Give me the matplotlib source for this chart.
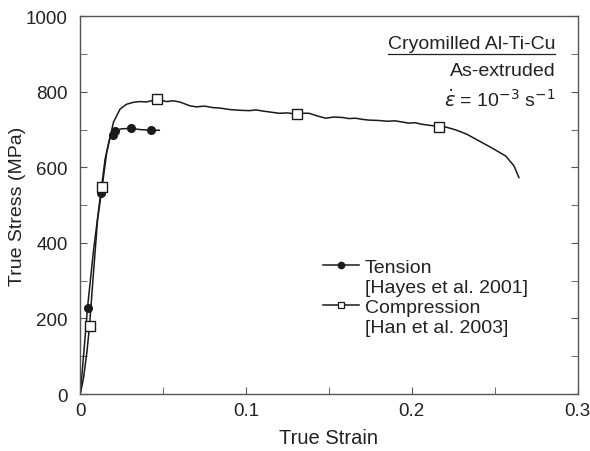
import numpy as np
import matplotlib
matplotlib.use("Agg")
import matplotlib.pyplot as plt
from matplotlib.lines import Line2D
from matplotlib.ticker import MultipleLocator

plt.rcParams['font.family'] = ['Liberation Sans', 'DejaVu Sans']

# Tension curve [Hayes et al. 2001]
tens_strain = [0.0, 0.001, 0.002, 0.0044, 0.008, 0.0124, 0.015, 0.0176, 0.0196,
               0.021, 0.025, 0.0305, 0.036, 0.0425, 0.0477]
tens_stress = [0, 50, 101, 229, 380, 533, 622, 674, 685,
               697, 702, 703, 700, 698, 698]
tens_mark_strain = [0.0044, 0.0124, 0.0196, 0.021, 0.0305, 0.0425]
tens_mark_stress = [229, 533, 685, 697, 703, 698]

# Compression curve [Han et al. 2003]
comp_strain = [0.0, 0.0019, 0.004, 0.0056, 0.008, 0.0105, 0.0132, 0.016, 0.020,
               0.024, 0.028, 0.032, 0.036, 0.040, 0.0466, 0.052, 0.056, 0.060,
               0.066, 0.070, 0.075, 0.080, 0.084, 0.090, 0.096, 0.102, 0.106,
               0.110, 0.115, 0.120, 0.125, 0.130, 0.134, 0.138, 0.143, 0.148,
               0.153, 0.158, 0.162, 0.166, 0.170, 0.174, 0.180, 0.185, 0.190,
               0.194, 0.198, 0.202, 0.206, 0.211, 0.2165, 0.221, 0.2265, 0.233,
               0.2405, 0.248, 0.2566, 0.2616, 0.2646]
comp_stress = [0, 40, 110, 181, 322, 463, 548, 640, 719,
               754, 767, 772, 774, 773, 780, 774, 776, 773,
               763, 760, 762, 758, 757, 753, 751, 750, 752,
               749, 746, 743, 744, 741, 743, 743, 736, 730,
               733, 732, 729, 730, 727, 725, 724, 722, 723,
               720, 717, 718, 714, 711, 708, 706, 699, 688,
               670, 652, 630, 604, 573]
comp_mark_strain = [0.0056, 0.0132, 0.0466, 0.1306, 0.2165]
comp_mark_stress = [181, 548, 780, 741, 708]

fig, ax = plt.subplots(figsize=(5.9, 4.52), dpi=100)
fig.subplots_adjust(left=0.136, right=0.979, bottom=0.126, top=0.962)

lc = '#1a1a1a'
ax.plot(tens_strain, tens_stress, color=lc, lw=1.1)
ax.plot(tens_mark_strain, tens_mark_stress, 'o', color=lc, ms=5.5, ls='none')
ax.plot(comp_strain, comp_stress, color=lc, lw=1.1)
ax.plot(comp_mark_strain, comp_mark_stress, 's', mfc='white', mec=lc,
        mew=1.0, ms=6.5, ls='none')

ax.set_xlim(0, 0.3)
ax.set_ylim(0, 1000)
ax.xaxis.set_minor_locator(MultipleLocator(0.05))
ax.yaxis.set_major_locator(MultipleLocator(200))
ax.yaxis.set_minor_locator(MultipleLocator(100))
ax.set_xticks([0, 0.1, 0.2, 0.3])
ax.set_xticklabels(['0', '0.1', '0.2', '0.3'])

gray = '#555555'
tc = '#222222'
for s in ax.spines.values():
    s.set_color(gray)
    s.set_linewidth(1.0)
ax.tick_params(which='both', direction='in', colors=gray, labelcolor=tc,
               right=True, top=False, labelsize=13.5, length=5)
ax.tick_params(axis='x', pad=6)
ax.tick_params(axis='y', pad=9)

ax.set_xlabel('True Strain', fontsize=14.5, color=tc, labelpad=6)
ax.set_ylabel('True Stress (MPa)', fontsize=14, color=tc, labelpad=0)

t1 = ax.text(0.955, 0.928, 'Cryomilled Al-Ti-Cu', transform=ax.transAxes,
             ha='right', va='center', fontsize=14, color=tc)
ax.text(0.955, 0.857, 'As-extruded', transform=ax.transAxes,
        ha='right', va='center', fontsize=14, color=tc)
ax.text(0.955, 0.78, r'$\dot{\varepsilon}$ = 10$^{-3}$ s$^{-1}$', transform=ax.transAxes,
        ha='right', va='center', fontsize=14, color=tc)

# underline the title to the width of its text
fig.canvas.draw()
bb = t1.get_window_extent().transformed(ax.transAxes.inverted())
ax.plot([bb.x0, bb.x1], [bb.y0 - 0.006, bb.y0 - 0.006], transform=ax.transAxes,
        color=tc, lw=0.9)

handles = [
    Line2D([], [], color=lc, lw=1.1, marker='o', ms=4.5),
    Line2D([], [], color='none'),
    Line2D([], [], color=lc, lw=1.1, marker='s', ms=5, mfc='white', mew=0.9),
    Line2D([], [], color='none'),
]
labels = ['Tension', '[Hayes et al. 2001]', 'Compression', '[Han et al. 2003]']
leg = ax.legend(handles, labels, loc='upper left', bbox_to_anchor=(0.472, 0.38),
                frameon=False, fontsize=14, handlelength=1.85, handletextpad=0.3,
                labelspacing=0.12, borderaxespad=0)
for t in leg.get_texts():
    t.set_color(tc)

fig.savefig('out.png', dpi=100)
